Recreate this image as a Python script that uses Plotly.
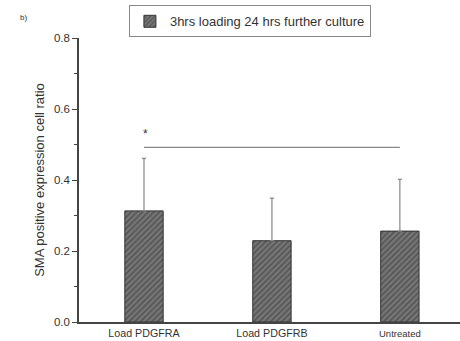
import plotly.graph_objects as go

categories = ["Load PDGFRA", "Load PDGFRB", "Untreated"]
tick_labels = ["Load PDGFRA", "Load PDGFRB", "<span style='font-size:9.5px'>Untreated</span>"]
values = [0.313, 0.229, 0.256]
errors = [0.148, 0.120, 0.146]
series_name = "3hrs loading 24 hrs further culture"
sig_from, sig_to, sig_level = 0, 2, 0.492
star_level = 0.53

fig = go.Figure()
fig.add_trace(go.Bar(
    x=list(range(len(categories))), y=values, name=series_name,
    width=0.3,
    marker=dict(color="#777777", line=dict(color="#333333", width=1),
                pattern=dict(shape="/", fgcolor="#333333", bgcolor="#777777", size=4, solidity=0.45)),
    error_y=dict(type="data", symmetric=False, array=errors, arrayminus=[0]*len(errors),
                 color="#888888", thickness=1.2, width=2),
    showlegend=True,
))

fig.add_shape(type="line", xref="x", yref="y", x0=sig_from, x1=sig_to, y0=sig_level, y1=sig_level,
              line=dict(color="#888888", width=1.2))
fig.add_annotation(x=sig_from, y=star_level, xref="x", yref="y", text="*", showarrow=False,
                   font=dict(size=12, color="#333333", family="Liberation Sans, Arial"), xshift=2)
fig.add_annotation(x=-0.16, y=1.095, xref="paper", yref="paper", text="b)", showarrow=False,
                   font=dict(size=8, color="#333333", family="Liberation Sans, Arial"))

fig.update_layout(
    width=460, height=341,
    margin=dict(l=79, r=0, t=38, b=19),
    paper_bgcolor="white", plot_bgcolor="white",
    font=dict(family="Liberation Sans, Arial", color="#333333"),
    showlegend=True,
    legend=dict(x=0.131, y=1.115, xanchor="left", yanchor="top", bordercolor="#888888", borderwidth=1,
                font=dict(size=13, color="#333333"), bgcolor="white",
                tracegroupgap=0, itemwidth=30),
    bargap=0.7,
)
fig.update_xaxes(range=[-0.508, 2.47], tickmode="array", tickvals=list(range(len(categories))),
                 ticktext=tick_labels, showline=True, linecolor="#444444", linewidth=1.5,
                 ticks="", tickfont=dict(size=10.7, color="#333333"), showgrid=False, zeroline=False)
fig.update_yaxes(range=[0, 0.8], tickvals=[0, 0.2, 0.4, 0.6, 0.8], tickformat=".1f",
                 showline=True, linecolor="#444444", linewidth=1.5, ticks="outside", ticklen=5,
                 tickcolor="#444444", tickfont=dict(size=11.5, color="#333333"),
                 minor=dict(ticks="outside", ticklen=3, tickcolor="#444444", dtick=0.1),
                 showgrid=False, zeroline=False,
                 title=dict(text="SMA positive expression cell ratio", font=dict(size=13, color="#333333"), standoff=6))

fig.write_html("out.html")
